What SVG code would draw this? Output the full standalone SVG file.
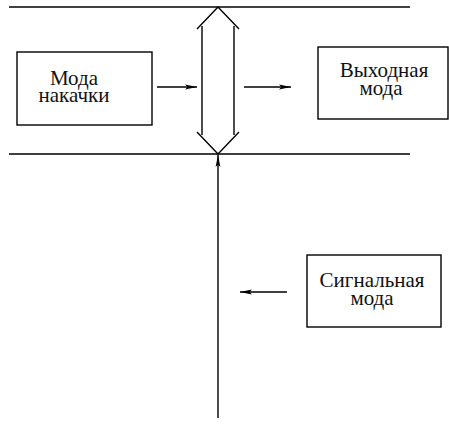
<svg xmlns="http://www.w3.org/2000/svg" width="449" height="425" viewBox="0 0 449 425">
<defs>
<marker id="ah" viewBox="0 0 12 6" refX="12" refY="3" markerWidth="12" markerHeight="6" markerUnits="userSpaceOnUse" orient="auto">
<path d="M0,0.6 L12,3 L0,5.4 L2.5,3 Z" fill="#000"/>
</marker>
</defs>
<style>
.ln{stroke:#000;stroke-width:1.4;fill:none}
.box{stroke:#000;stroke-width:1.4;fill:#fff}
.t{font-family:'Liberation Serif','DejaVu Serif',serif;font-size:21px;fill:#111;text-anchor:middle}
</style>
<rect width="449" height="425" fill="#fff"/>
<g id="boundaries">
<line class="ln" x1="9" y1="7" x2="410" y2="7"/>
<line class="ln" x1="9" y1="154" x2="410" y2="154"/>
</g>
<g id="crystal">
<polyline class="ln" points="197,29 218,7 239,29"/>
<polyline class="ln" points="197,132 218,154 239,132"/>
<line class="ln" x1="202" y1="26" x2="202" y2="135"/>
<line class="ln" x1="234" y1="26" x2="234" y2="135"/>
</g>
<g id="pump">
<rect class="box" x="17" y="52" width="135" height="73"/>
<text class="t" x="74" y="85">Мода</text>
<text class="t" x="74" y="102">накачки</text>
</g>
<g id="output">
<rect class="box" x="318" y="47" width="130" height="72"/>
<text class="t" x="384" y="77">Выходная</text>
<text class="t" x="381" y="95">мода</text>
</g>
<g id="signal">
<rect class="box" x="307" y="255" width="134" height="72"/>
<text class="t" x="372" y="287">Сигнальная</text>
<text class="t" x="372" y="305">мода</text>
</g>
<g id="connectors">
<line class="ln" x1="157" y1="87" x2="197" y2="87" marker-end="url(#ah)"/>
<line class="ln" x1="244" y1="87" x2="291" y2="87" marker-end="url(#ah)"/>
<line class="ln" x1="287" y1="292" x2="240" y2="292" marker-end="url(#ah)"/>
<line class="ln" x1="218" y1="418" x2="218" y2="155" marker-end="url(#ah)"/>
</g>
</svg>
